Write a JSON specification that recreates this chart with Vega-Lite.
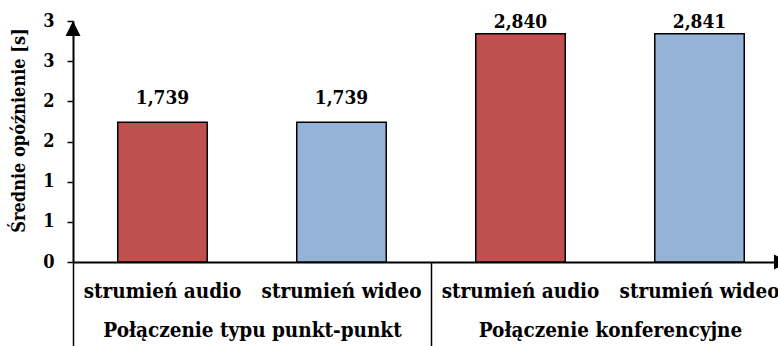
{
  "$schema": "https://vega.github.io/schema/vega-lite/v6.json",
  "width": 716,
  "height": 241,
  "autosize": {"type": "none"},
  "padding": {"left": 73, "top": 21, "right": -11, "bottom": 84},
  "background": "white",
  "config": {
    "view": {"stroke": null},
    "font": "DejaVu Serif Condensed",
    "axis": {
      "grid": false,
      "labelColor": "black",
      "labelFont": "DejaVu Serif Condensed",
      "labelFontWeight": "bold",
      "labelLimit": 0,
      "titleColor": "black",
      "titleFont": "DejaVu Serif Condensed",
      "titleFontWeight": "bold",
      "domainColor": "black",
      "tickColor": "black"
    }
  },
  "datasets": {
    "delays": [
      {"group": "Połączenie typu punkt-punkt", "stream": "strumień audio", "value": 1.739},
      {"group": "Połączenie typu punkt-punkt", "stream": "strumień wideo", "value": 1.739},
      {"group": "Połączenie konferencyjne", "stream": "strumień audio", "value": 2.840},
      {"group": "Połączenie konferencyjne", "stream": "strumień wideo", "value": 2.841}
    ],
    "arrows": [
      {"axis": "y", "pos": 0, "value": 3},
      {"axis": "x", "pos": 1, "value": 0}
    ]
  },
  "layer": [
    {
      "data": {"name": "delays"},
      "transform": [
        {"calculate": "datum.group + '|' + datum.stream", "as": "key"},
        {"calculate": "replace(format(datum.value, '.3f'), '.', ',')", "as": "label"}
      ],
      "encoding": {
        "x": {
          "field": "key",
          "type": "nominal",
          "sort": null,
          "scale": {"type": "band", "paddingInner": 0.5, "paddingOuter": 0.25},
          "axis": {
            "orient": "bottom",
            "title": null,
            "labelExpr": "split(datum.label, '|')[1]",
            "labelAngle": 0,
            "labelFontSize": 20.5,
            "labelPadding": 19,
            "labelOverlap": false,
            "ticks": false,
            "domainWidth": 2
          }
        },
        "y": {
          "field": "value",
          "type": "quantitative",
          "scale": {"domain": [0, 3], "nice": false},
          "axis": {
            "title": "Średnie opóźnienie [s]",
            "titleFontSize": 18,
            "titlePadding": 14,
            "titleY": 109,
            "values": [0, 0.5, 1, 1.5, 2, 2.5, 3],
            "labelExpr": "format(round(datum.value), 'd')",
            "labelFontSize": 18,
            "labelPadding": 13,
            "tickSize": 6,
            "tickWidth": 1.5,
            "domainWidth": 2
          }
        }
      },
      "layer": [
        {
          "mark": {"type": "bar", "stroke": "black", "strokeWidth": 1.5},
          "encoding": {
            "color": {
              "field": "stream",
              "type": "nominal",
              "scale": {"domain": ["strumień audio", "strumień wideo"], "range": ["#C0504D", "#95B3D7"]},
              "legend": null
            }
          }
        },
        {
          "transform": [{"filter": "datum.value < 2.5"}],
          "mark": {"type": "text", "font": "DejaVu Serif Condensed", "baseline": "alphabetic", "dy": -18, "fontSize": 19, "fontWeight": "bold", "color": "black"},
          "encoding": {"text": {"field": "label"}}
        },
        {
          "transform": [{"filter": "datum.value >= 2.5"}],
          "mark": {"type": "text", "font": "DejaVu Serif Condensed", "baseline": "alphabetic", "dy": -6, "fontSize": 19, "fontWeight": "bold", "color": "black"},
          "encoding": {"text": {"field": "label"}}
        }
      ]
    },
    {
      "data": {"name": "delays"},
      "mark": {"type": "text", "text": ""},
      "encoding": {
        "x": {
          "field": "group",
          "type": "nominal",
          "sort": null,
          "scale": {"type": "band", "paddingInner": 0, "paddingOuter": 0},
          "axis": {
            "orient": "bottom",
            "title": null,
            "domain": false,
            "tickBand": "extent",
            "tickSize": 84,
            "tickWidth": 1.5,
            "labelAngle": 0,
            "labelFontSize": 20.5,
            "labelPadding": -26,
            "labelOverlap": false
          }
        }
      }
    },
    {
      "data": {"name": "arrows"},
      "encoding": {
        "x": {"field": "pos", "type": "quantitative", "scale": {"domain": [0, 1], "nice": false, "zero": false}, "axis": null},
        "y": {"field": "value", "type": "quantitative"}
      },
      "layer": [
        {
          "transform": [{"filter": "datum.axis == 'y'"}],
          "mark": {"type": "point", "shape": "M0,0L1,2L-1,2Z", "size": 225, "filled": true, "color": "black", "opacity": 1}
        },
        {
          "transform": [{"filter": "datum.axis == 'x'"}],
          "mark": {"type": "point", "shape": "M0,0L-2,-1L-2,1Z", "size": 225, "filled": true, "color": "black", "opacity": 1}
        }
      ]
    }
  ],
  "resolve": {"scale": {"x": "independent"}, "axis": {"x": "independent"}}
}
